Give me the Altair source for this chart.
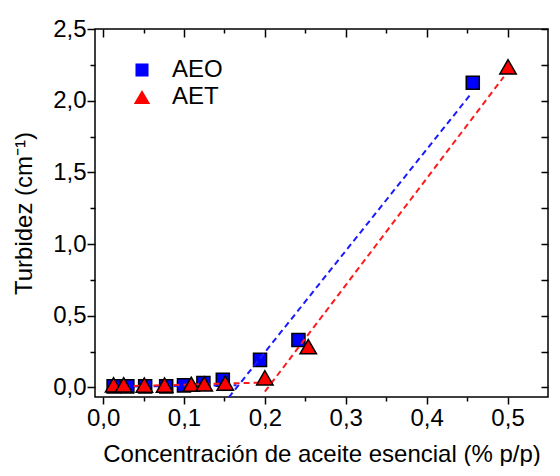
import altair as alt
import pandas as pd

# ---- data ----
aeo_x = [0.013, 0.030, 0.052, 0.078, 0.100, 0.124, 0.148, 0.194, 0.2415, 0.457]
aeo_y = [0.007, 0.007, 0.007, 0.007, 0.014, 0.030, 0.053, 0.192, 0.330, 2.125]
aet_x = [0.013, 0.0255, 0.051, 0.076, 0.109, 0.125, 0.151, 0.200, 0.2536, 0.5006]
aet_y = [0.018, 0.018, 0.016, 0.016, 0.022, 0.024, 0.030, 0.067, 0.284, 2.236]

# dashed fit segments (fit, segment id, x, y)
fit_names = ["AEO fit", "AET fit"]
fit_series = ["AEO fit", "AEO fit", "AEO fit", "AEO fit", "AET fit", "AET fit", "AET fit", "AET fit"]
fit_seg = ["aeo_low", "aeo_low", "aeo_high", "aeo_high", "aet_low", "aet_low", "aet_high", "aet_high"]
fit_x = [0.013, 0.165, 0.1554, 0.453, 0.013, 0.210, 0.200, 0.4954]
fit_y = [0.005, 0.015, -0.070, 2.035, 0.007, 0.035, -0.030, 2.167]

series = ["AEO", "AET"]
fill_colors = ["#0000ff", "#ff0000"]
line_colors = ["#1a1aff", "#ff1a1a"]
shapes = ["square", "triangle-up"]
sizes = [170, 270]

x_ticks = [0.0, 0.05, 0.1, 0.15, 0.2, 0.25, 0.3, 0.35, 0.4, 0.45, 0.5]
y_ticks = [0.0, 0.25, 0.5, 0.75, 1.0, 1.25, 1.5, 1.75, 2.0, 2.25, 2.5]
x_domain = [-0.01, 0.55]
y_domain = [-0.067, 2.5]

pts = pd.concat([
    pd.DataFrame({"x": aeo_x, "y": aeo_y, "series": "AEO"}),
    pd.DataFrame({"x": aet_x, "y": aet_y, "series": "AET"}),
], ignore_index=True)
fits = pd.DataFrame({"fit": fit_series, "seg": fit_seg, "x": fit_x, "y": fit_y})

W, H = 453, 368
FONT = "Liberation Sans"

x_major = "abs(datum.value*10 - round(datum.value*10)) < 0.001"
y_major = "abs(datum.value*2 - round(datum.value*2)) < 0.001"

xs = alt.Scale(domain=x_domain, nice=False, zero=False)
ys = alt.Scale(domain=y_domain, nice=False, zero=False)

main_x_axis = alt.Axis(
    values=x_ticks, orient="bottom", domain=False, grid=False,
    labelExpr=f"{x_major} ? replace(format(datum.value, '.1f'), '.', ',') : ''",
    tickSize={"condition": {"test": x_major, "value": 7}, "value": 4},
    tickWidth=1.5, tickColor="black", labelPadding=2, labelFontSize=24,
    labelColor="black", labelFont=FONT,
    title="Concentración de aceite esencial (% p/p)", titleFontSize=24,
    titleFont=FONT, titleFontWeight="normal", titleColor="black", titlePadding=12,
)
main_y_axis = alt.Axis(
    values=y_ticks, orient="left", domain=False, grid=False,
    labelExpr=f"{y_major} ? replace(format(datum.value, '.1f'), '.', ',') : ''",
    tickSize={"condition": {"test": y_major, "value": 8}, "value": 5},
    tickWidth=1.5, tickColor="black", labelPadding=1, labelFontSize=24,
    labelColor="black", labelFont=FONT,
    title="Turbidez (cm⁻¹)", titleFontSize=24, titleFont=FONT,
    titleFontWeight="normal", titleColor="black", titlePadding=16,
)
# inward ticks for the top and right sides of the frame
top_axis = alt.Axis(
    values=x_ticks, orient="bottom", offset=-H, domain=False, grid=False,
    labels=False, title=None,
    tickSize={"condition": {"test": x_major, "value": 8}, "value": 4},
    tickWidth=1.5, tickColor="black",
)
right_axis = alt.Axis(
    values=y_ticks, orient="left", offset=-W, domain=False, grid=False,
    labels=False, title=None,
    tickSize=7, tickWidth=1.5, tickColor="black",
)

fill_enc = alt.Fill("series:N", scale=alt.Scale(domain=series, range=fill_colors), title=None)
shape_enc = alt.Shape("series:N", scale=alt.Scale(domain=series, range=shapes), title=None)
size_enc = alt.Size("series:N", scale=alt.Scale(domain=series, range=sizes, padding=0), title=None)

aeo_layer = alt.Chart(pts).transform_filter("datum.series == 'AEO'").mark_point(
    filled=True, stroke="black", strokeWidth=1.5, opacity=1
).encode(
    x=alt.X("x:Q", scale=xs, axis=main_x_axis),
    y=alt.Y("y:Q", scale=ys, axis=main_y_axis),
    fill=fill_enc, shape=shape_enc, size=size_enc,
)

line_layer = alt.Chart(fits).mark_line(strokeDash=[6, 4], strokeWidth=2).encode(
    x=alt.X("x:Q", scale=xs, axis=top_axis),
    y=alt.Y("y:Q", scale=ys, axis=right_axis),
    stroke=alt.Stroke("fit:N", scale=alt.Scale(domain=fit_names, range=line_colors), legend=None),
    detail="seg:N",
)

aet_layer = alt.Chart(pts).transform_filter("datum.series == 'AET'").mark_point(
    filled=True, stroke="black", strokeWidth=1.5, opacity=1
).encode(
    x=alt.X("x:Q", scale=xs, axis=None),
    y=alt.Y("y:Q", scale=ys, axis=None),
    fill=fill_enc, shape=shape_enc, size=size_enc,
)

chart = alt.layer(aeo_layer, line_layer, aet_layer).resolve_scale(
    x="independent", y="independent"
).resolve_axis(
    x="independent", y="independent"
).properties(
    width=W, height=H,
    padding={"left": 4, "top": 9, "right": 0, "bottom": 0},
).configure_view(
    stroke="black", strokeWidth=1.5
).configure_legend(
    orient="top-left", offset=29, padding=0,
    labelFontSize=24, labelFont=FONT, labelColor="black", labelOffset=18,
    symbolOffset=6, rowPadding=3, symbolStrokeColor="black",
    symbolStrokeWidth=1.5, symbolOpacity=1,
)

chart.save("out.html", embed_options={"renderer": "svg", "actions": False})
